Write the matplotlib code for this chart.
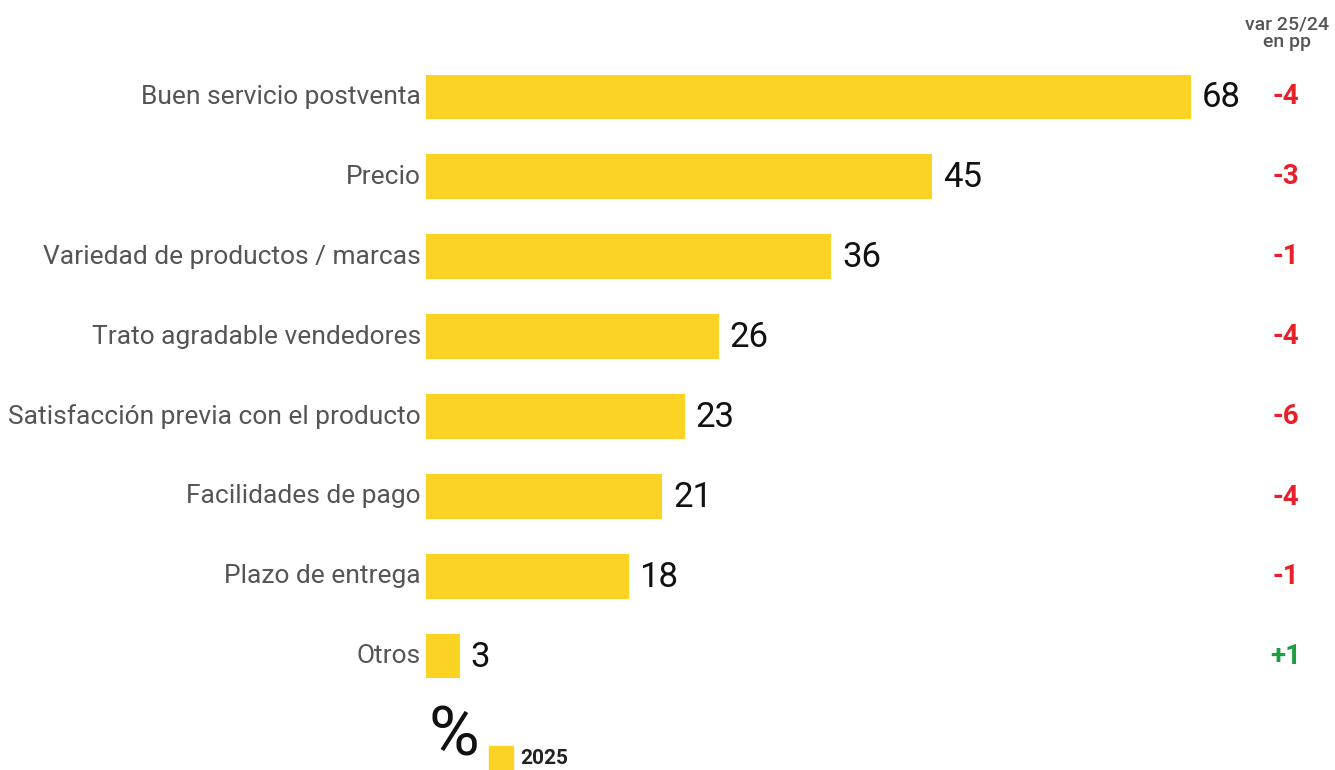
import matplotlib.pyplot as plt
from matplotlib.patches import Rectangle

# datos
categorias = ["Buen servicio postventa", "Precio", "Variedad de productos / marcas",
              "Trato agradable vendedores", "Satisfacción previa con el producto",
              "Facilidades de pago", "Plazo de entrega", "Otros"]
valores = [68, 45, 36, 26, 23, 21, 18, 3]
variacion = [-4, -3, -1, -4, -6, -4, -1, 1]

amarillo = "#FCD223"
rojo = "#E8202A"
verde = "#1A9E3F"
gris = "#555555"

plt.rcParams['font.family'] = ['Roboto', 'DejaVu Sans']

W, H = 1335, 770
fig = plt.figure(figsize=(W / 100, H / 100), dpi=100)
# ejes colocados en pixeles: barras desde x=426, de y=57 a y=696
ax = fig.add_axes([426 / W, (H - 696) / H, (W - 426) / W, 639 / H])
escala = 765 / 68  # px por punto
ax.set_xlim(0, (W - 426) / escala)
ax.set_ylim(len(valores) - 0.5, -0.5)
ax.axis('off')

pos = range(len(valores))
ax.barh(pos, valores, height=0.56, color=amarillo)

for i, (cat, v, d) in enumerate(zip(categorias, valores, variacion)):
    ax.annotate(cat, (0, i), xytext=(-5, 0), textcoords='offset pixels',
                ha='right', va='center', fontsize=19, color=gris)
    ax.annotate(str(v), (v, i), xytext=(11, -1), textcoords='offset pixels',
                ha='left', va='center', fontsize=25, color='#111111')
    ax.text(1286 / W, 1 - (97 + 80 * i) / H, f"{d:+d}", transform=fig.transFigure,
            ha='center', va='center', fontsize=20, fontweight='bold',
            color=verde if d > 0 else rojo)

fig.text(1287 / W, 1 - 33 / H, "var 25/24\nen pp", ha='center', va='center',
         fontsize=14, color=gris, linespacing=0.95, fontweight='medium')

# leyenda inferior
fig.text(428 / W, 1 / H, "%", ha='left', va='bottom', fontsize=50,
         color='#111111')
fig.patches.append(Rectangle((489 / W, 0), 24 / W, 24 / H, transform=fig.transFigure,
                             color=amarillo))
fig.text(520 / W, 1 - 758 / H, "2025", ha='left', va='center', fontsize=15,
         fontweight='bold', color='#222222')

fig.savefig("out.png", dpi=100)
